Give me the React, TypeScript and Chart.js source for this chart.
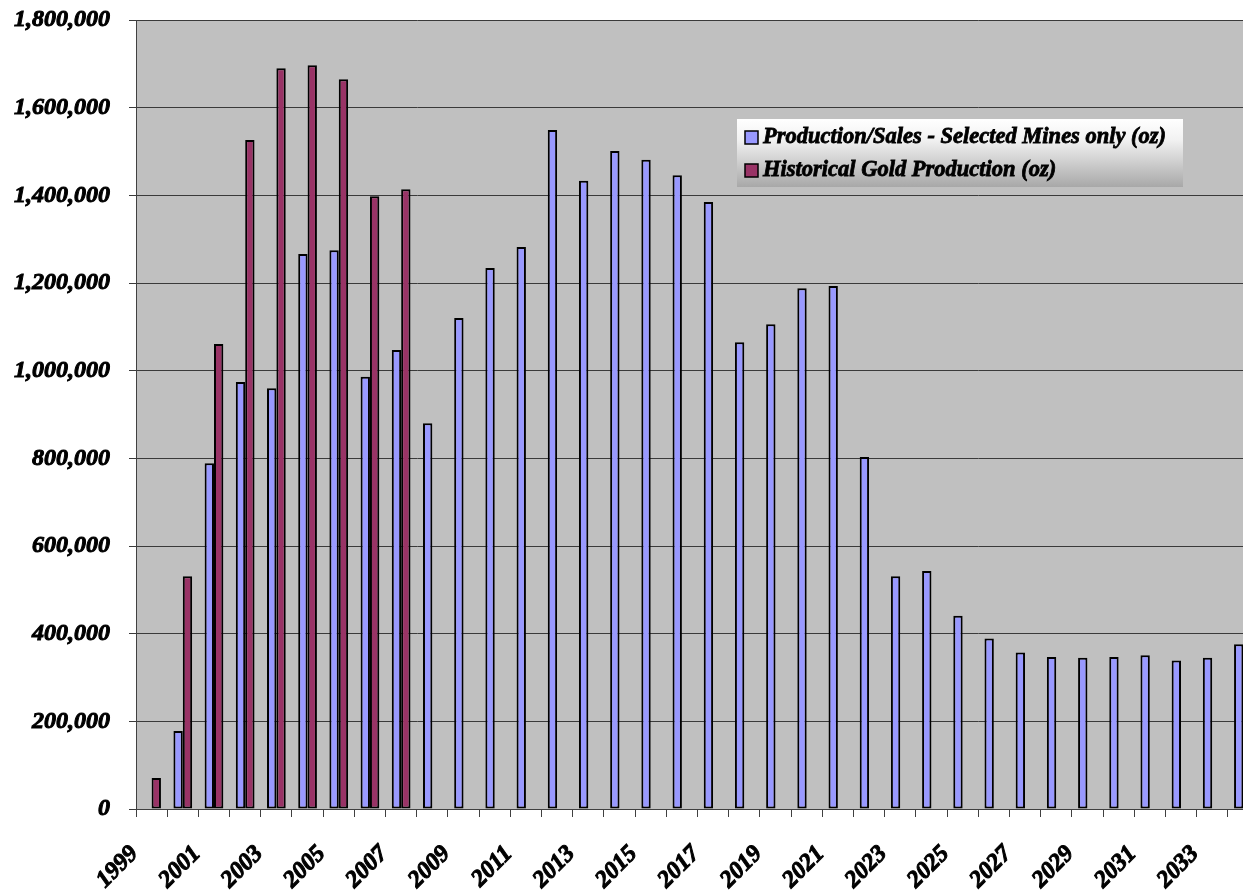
import React, { useEffect, useRef } from "react";
import { Chart, registerables } from "chart.js";

Chart.register(...registerables);

const years: string[] = [
  "1999", "2000", "2001", "2002", "2003", "2004", "2005", "2006", "2007", "2008",
  "2009", "2010", "2011", "2012", "2013", "2014", "2015", "2016", "2017", "2018",
  "2019", "2020", "2021", "2022", "2023", "2024", "2025", "2026", "2027", "2028",
  "2029", "2030", "2031", "2032", "2033", "2034",
];

const productionSales: (number | null)[] = [
  null, 178000, 789000, 974000, 960000, 1266000, 1275000, 986000, 1047000, 880000,
  1120000, 1234000, 1282000, 1549000, 1433000, 1501000, 1481000, 1446000, 1385000, 1065000,
  1106000, 1188000, 1193000, 803000, 531000, 543000, 441000, 389000, 357000, 347000,
  345000, 347000, 351000, 339000, 345000, 376000,
];

const historicalProduction: (number | null)[] = [
  71000, 531000, 1061000, 1526000, 1690000, 1697000, 1665000, 1398000, 1414000, null,
  null, null, null, null, null, null, null, null, null, null,
  null, null, null, null, null, null, null, null, null, null,
  null, null, null, null, null, null,
];

const seriesLabels = [
  "Production/Sales - Selected Mines only (oz)",
  "Historical Gold Production (oz)",
];

const yMin = 0;
const yMax = 1800000;
const yStep = 200000;

const FONT_FAMILY = '"Liberation Serif", "Times New Roman", serif';

const plotBackground = {
  id: "plotBackground",
  beforeDraw(chart: any) {
    const { ctx, chartArea } = chart;
    if (!chartArea) return;
    ctx.save();
    ctx.fillStyle = "#C0C0C0";
    ctx.fillRect(chartArea.left, chartArea.top, chartArea.right - chartArea.left, chartArea.bottom - chartArea.top);
    ctx.restore();
  },
};

const insideLegend = {
  id: "insideLegend",
  afterDatasetsDraw(chart: any, _args: any, opts: any) {
    const { ctx, chartArea } = chart;
    if (!chartArea) return;
    const x = chartArea.left + opts.offsetX;
    const y = chartArea.top + opts.offsetY;
    const w = opts.width;
    const h = opts.height;
    ctx.save();
    const g = ctx.createLinearGradient(0, y, 0, y + h);
    g.addColorStop(0, "#ffffff");
    g.addColorStop(0.3, "#f2f2f2");
    g.addColorStop(1, "#a8a8a8");
    ctx.fillStyle = g;
    ctx.fillRect(x, y, w, h);
    ctx.font = opts.font;
    ctx.textAlign = "left";
    ctx.textBaseline = "alphabetic";
    chart.data.datasets.forEach((ds: any, i: number) => {
      const by = y + opts.firstBaseline + i * opts.lineGap;
      const mx = x + 8;
      const my = by - 12;
      ctx.fillStyle = ds.backgroundColor;
      ctx.fillRect(mx, my, 13, 13);
      ctx.strokeStyle = "#000000";
      ctx.lineWidth = 1.5;
      ctx.strokeRect(mx, my, 13, 13);
      ctx.fillStyle = "#000000";
      ctx.lineWidth = 0.8;
      ctx.strokeText(ds.label, x + 26, by);
      ctx.fillText(ds.label, x + 26, by);
    });
    ctx.restore();
  },
};

export default function App() {
  const canvasRef = useRef<HTMLCanvasElement | null>(null);

  useEffect(() => {
    const canvas = canvasRef.current;
    if (!canvas) return;
    const tickFont = { family: FONT_FAMILY, size: 24, style: "italic" as const, weight: "bold" as const };
    const chart = new Chart(canvas, {
      type: "bar",
      data: {
        labels: years,
        datasets: [
          {
            label: seriesLabels[0],
            data: productionSales,
            backgroundColor: "#9999FF",
            borderColor: "#000000",
            borderWidth: 2,
            borderSkipped: false,
            categoryPercentage: 0.6,
            barPercentage: 1.0,
          },
          {
            label: seriesLabels[1],
            data: historicalProduction,
            backgroundColor: "#993366",
            borderColor: "#000000",
            borderWidth: 2,
            borderSkipped: false,
            categoryPercentage: 0.6,
            barPercentage: 1.0,
          },
        ],
      },
      options: {
        responsive: false,
        animation: false,
        devicePixelRatio: 1,
        layout: { padding: { left: 0, top: 20, right: 1, bottom: 0 } },
        plugins: {
          legend: { display: false },
          tooltip: { enabled: false },
          insideLegend: {
            offsetX: 601,
            offsetY: 99,
            width: 446,
            height: 68,
            firstBaseline: 24,
            lineGap: 33,
            font: `italic bold 22.5px ${FONT_FAMILY}`,
          },
        } as any,
        scales: {
          x: {
            type: "category",
            offset: true,
            grid: {
              display: true,
              offset: true,
              drawOnChartArea: false,
              drawTicks: true,
              tickLength: 8,
              color: "#404040",
              tickColor: "#404040",
            },
            border: { display: true, color: "#404040", width: 1 },
            ticks: {
              autoSkip: false,
              maxRotation: 45,
              minRotation: 45,
              padding: 23,
              labelOffset: -17,
              color: "#000000",
              textStrokeColor: "#000000",
              textStrokeWidth: 1,
              font: tickFont,
              callback: (_v: any, i: number) => (i % 2 === 0 ? years[i] : ""),
            },
            afterFit: (scale: any) => {
              scale.height = 81;
              scale.paddingLeft = 0;
              scale.paddingRight = 0;
            },
          },
          y: {
            min: yMin,
            max: yMax,
            ticks: {
              stepSize: yStep,
              padding: 19,
              color: "#000000",
              textStrokeColor: "#000000",
              textStrokeWidth: 1,
              font: tickFont,
              callback: (v: any) => Number(v).toLocaleString("en-US"),
            },
            grid: {
              color: "#3a3a3a",
              tickColor: "#3a3a3a",
              lineWidth: 1,
              drawTicks: true,
              tickLength: 7,
            },
            border: { display: true, color: "#404040", width: 1 },
            afterFit: (scale: any) => {
              scale.width = 136;
              scale.paddingTop = 0;
              scale.paddingBottom = 0;
            },
          },
        },
      },
      plugins: [plotBackground, insideLegend],
    });
    return () => chart.destroy();
  }, []);

  return (
    <div
      style={{
        position: "absolute",
        left: 0,
        top: 0,
        width: 1243,
        height: 890,
        overflow: "hidden",
        background: "#ffffff",
      }}
    >
      <canvas ref={canvasRef} width={1260} height={890} style={{ display: "block" }} />
    </div>
  );
}
